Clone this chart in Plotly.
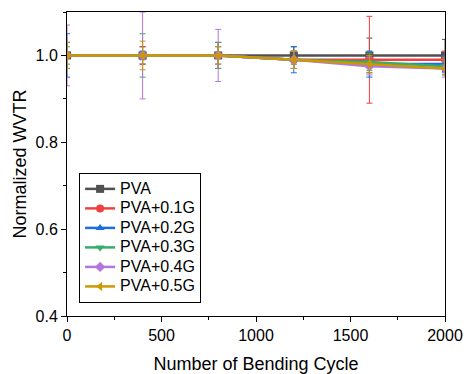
import plotly.graph_objects as go

cycles = [0, 400, 800, 1200, 1600, 2000]
names = ["PVA", "PVA+0.1G", "PVA+0.2G", "PVA+0.3G", "PVA+0.4G", "PVA+0.5G"]
pva = [1.0, 1.0, 1.0, 1.0, 1.0, 1.0]
pva_err = [0.03, 0.02, 0.03, 0.02, 0.04, 0.037]
g01 = [1.0, 1.0, 1.0, 0.99, 0.99, 0.99]
g01_err = [0.03, 0.02, 0.03, 0.02, 0.10, 0.02]
g02 = [1.0, 1.0, 1.0, 0.99, 0.98, 0.98]
g02_err = [0.05, 0.01, 0.02, 0.03, 0.03, 0.02]
g03 = [1.0, 1.0, 1.0, 0.99, 0.985, 0.975]
g03_err = [0.02, 0.05, 0.03, 0.02, 0.02, 0.02]
g04 = [1.0, 1.0, 1.0, 0.99, 0.975, 0.97]
g04_err = [0.07, 0.10, 0.06, 0.02, 0.02, 0.02]
g05 = [1.0, 1.0, 1.0, 0.99, 0.98, 0.97]
g05_err = [0.03, 0.033, 0.02, 0.02, 0.02, 0.015]

series = [pva, g01, g02, g03, g04, g05]
errors = [pva_err, g01_err, g02_err, g03_err, g04_err, g05_err]
colors = ["#515151", "#F14040", "#1A6FDF", "#37AD6B", "#B177DE", "#CC9900"]
symbols = ["square", "circle", "triangle-up", "triangle-down", "diamond", "triangle-left"]

fig = go.Figure()
for n, y, e, c, s in zip(names, series, errors, colors, symbols):
    fig.add_trace(go.Scatter(
        x=cycles, y=y, name='<span style="font-size:16px">' + n + '</span>',
        mode="lines+markers",
        line=dict(color=c, width=2.5),
        marker=dict(symbol=s, size=8, color=c),
        error_y=dict(type="data", array=e, visible=True, color=c, thickness=1, width=3),
    ))

FONT = "Arial, Liberation Sans, sans-serif"
axis_common = dict(
    showline=True, linecolor="black", linewidth=1, mirror=True,
    ticks="outside", ticklen=5, tickwidth=1, tickcolor="black",
    showgrid=False, zeroline=False, automargin=False,
    tickfont=dict(family=FONT, size=16, color="black"),
    title_font=dict(family=FONT, size=18, color="black"),
)
fig.update_xaxes(range=[0, 2000], tickvals=[0, 500, 1000, 1500, 2000],
                 minor=dict(ticks="outside", ticklen=3, tickcolor="black", dtick=250, tick0=0),
                 title_text="Number of Bending Cycle", title_standoff=15, **axis_common)
fig.update_yaxes(range=[0.4, 1.1], tickvals=[0.4, 0.6, 0.8, 1.0], ticktext=["0.4", "0.6", "0.8", "1.0"],
                 minor=dict(ticks="outside", ticklen=3, tickcolor="black", dtick=0.1, tick0=0.4),
                 title_text="Normalized WVTR", title_standoff=4, **axis_common)

fig.update_layout(
    width=466, height=374,
    margin=dict(l=67, r=21, t=12, b=58),
    plot_bgcolor="white", paper_bgcolor="white",
    font=dict(family=FONT, size=15, color="black"),
    legend=dict(x=0.032, y=0.47, xanchor="left", yanchor="top",
                bordercolor="black", borderwidth=1, bgcolor="white",
                font=dict(size=12.7), tracegroupgap=0, itemwidth=30),
    showlegend=True,
)
fig.write_html("out.html", config={"displayModeBar": False},
               post_script="document.body.style.margin='0';document.body.style.padding='0';")
